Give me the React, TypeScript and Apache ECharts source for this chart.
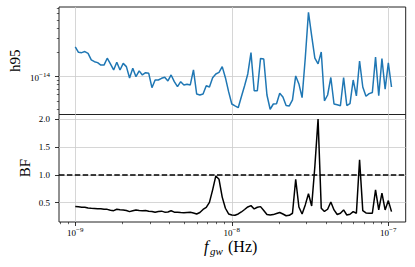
import React, { useEffect, useRef } from "react";
import * as echarts from "echarts";

// frequency grid in nHz
const freqNHz = [
  1.0, 1.048, 1.099, 1.151, 1.207, 1.265, 1.326, 1.389, 1.456, 1.526,
  1.6, 1.677, 1.758, 1.842, 1.931, 2.024, 2.121, 2.223, 2.33, 2.442,
  2.56, 2.683, 2.812, 2.947, 3.089, 3.237, 3.393, 3.557, 3.728, 3.907,
  4.095, 4.292, 4.498, 4.715, 4.942, 5.18, 5.429, 5.69, 5.964, 6.251,
  6.551, 6.867, 7.197, 7.543, 7.906, 8.286, 8.685, 9.103, 9.541, 10.0,
  10.48, 10.99, 11.51, 12.07, 12.65, 13.26, 13.9, 14.56, 15.26, 16.0,
  16.77, 17.58, 18.42, 19.31, 20.24, 21.21, 22.23, 23.3, 24.42, 25.6,
  26.83, 28.12, 29.47, 30.89, 32.38, 33.93, 35.57, 37.28, 39.07, 40.95,
  42.92, 44.98, 47.15, 49.42, 51.8, 54.29, 56.9, 59.64, 62.51, 65.51,
  68.67, 71.97, 75.43, 79.06, 82.86, 86.85, 91.03, 95.41, 100.0, 104.8,
];

// h95 upper limit, in units of 1e-14
const h95E14 = [
  2.34, 2.0, 1.98, 2.04, 1.94, 1.61, 1.53, 1.49, 1.39, 1.39,
  1.69, 1.44, 1.21, 1.51, 1.21, 1.46, 1.33, 0.964, 1.27, 1.0,
  1.18, 1.05, 1.12, 1.1, 0.731, 0.91, 0.91, 0.955, 0.983, 0.885,
  1.05, 0.868, 0.753, 0.868, 0.79, 0.806, 0.79, 1.21, 0.611, 0.594,
  0.611, 0.774, 0.746, 0.972, 1.08, 1.13, 1.33, 0.972, 0.653, 0.46,
  0.435, 0.414, 0.566, 0.774, 1.08, 1.98, 0.671, 0.671, 1.68, 1.65,
  0.594, 0.396, 0.46, 0.464, 0.624, 0.561, 0.441, 0.435, 0.516, 1.02,
  0.813, 0.55, 1.7, 6.24, 3.18, 1.69, 1.44, 2.02, 0.504, 0.594,
  0.977, 0.46, 0.45, 0.438, 0.977, 0.441, 0.464, 0.91, 0.578, 1.56,
  0.746, 0.573, 0.617, 0.638, 1.74, 0.581, 1.67, 0.699, 1.48, 0.746,
];

// Bayes factor
const bf = [
  0.43, 0.425, 0.42, 0.417, 0.405, 0.4, 0.397, 0.39, 0.392, 0.382,
  0.38, 0.364, 0.357, 0.382, 0.373, 0.37, 0.36, 0.339, 0.355, 0.37,
  0.36, 0.355, 0.36, 0.346, 0.342, 0.328, 0.342, 0.348, 0.33, 0.333,
  0.355, 0.33, 0.328, 0.322, 0.32, 0.324, 0.328, 0.315, 0.297, 0.324,
  0.378, 0.414, 0.505, 0.73, 0.98, 0.92, 0.6, 0.4, 0.297, 0.279,
  0.274, 0.297, 0.333, 0.378, 0.423, 0.447, 0.387, 0.418, 0.429, 0.36,
  0.288, 0.279, 0.286, 0.306, 0.324, 0.297, 0.265, 0.274, 0.31, 0.92,
  0.423, 0.297, 0.46, 0.66, 0.44, 1.15, 2.0, 0.4, 0.342, 0.382,
  0.513, 0.37, 0.288, 0.31, 0.37, 0.279, 0.292, 0.339, 0.31, 1.27,
  0.357, 0.315, 0.31, 0.31, 0.73, 0.37, 0.67, 0.37, 0.537, 0.34,
];

const xTickExponents = [-9, -8, -7];
const hTickExponents = [-14];
const bfTicks = [0.5, 1.0, 1.5, 2.0];
const bfThreshold = 1.0;

const FONT = "'Liberation Serif', 'DejaVu Serif', serif";

export default function App() {
  const ref = useRef<HTMLDivElement>(null);

  useEffect(() => {
    if (!ref.current) return;
    const chart = echarts.init(ref.current, null, { renderer: "svg" });

    const X_MIN = -9.104;
    const X_MAX = -6.889;
    const HY_MIN = -14.467;
    const HY_MAX = -13.14;
    const BF_MIN = 0.153;
    const BF_MAX = 2.083;

    const xMinor: number[] = [];
    for (let d = -10; d <= -7; d++) {
      for (let m = 2; m <= 9; m++) {
        const v = Math.log10(m) + d;
        if (v >= X_MIN && v <= X_MAX) xMinor.push(v);
      }
    }
    const hMinor: number[] = [];
    for (let d = -15; d <= -14; d++) {
      for (let m = 2; m <= 9; m++) {
        const v = Math.log10(m) + d;
        if (v >= HY_MIN && v <= HY_MAX) hMinor.push(v);
      }
    }

    const pow10 = (v: number) => `{b|10}{e|−${Math.round(Math.abs(v))}}`;
    const richPow = {
      b: { fontSize: 9, fontFamily: FONT, color: "#000", verticalAlign: "bottom", lineHeight: 11 },
      e: { fontSize: 7, fontFamily: FONT, color: "#000", verticalAlign: "top", lineHeight: 11 },
    };
    const gridLine = { show: true, lineStyle: { color: "#cccccc", width: 0.8 } };
    const tickLabel = { fontSize: 9, fontFamily: FONT, color: "#000" };

    const topData = freqNHz.map((f, i) => [Math.log10(f * 1e-9), Math.log10(h95E14[i] * 1e-14)]);
    const bfData = freqNHz.map((f, i) => [Math.log10(f * 1e-9), bf[i]]);

    chart.setOption({
      animation: false,
      backgroundColor: "#fff",
      grid: [
        { left: 59, top: 7, width: 346.7, height: 107.5, show: true, borderColor: "#222", borderWidth: 1, backgroundColor: "transparent" },
        { left: 59, top: 114.5, width: 346.7, height: 107.5, show: true, borderColor: "#222", borderWidth: 1, backgroundColor: "transparent" },
      ],
      xAxis: [
        {
          gridIndex: 0, type: "value", position: "bottom", min: X_MIN, max: X_MAX,
          axisLine: { show: false },
          axisTick: { show: false, customValues: xTickExponents },
          axisLabel: { show: false, customValues: xTickExponents },
          splitLine: gridLine,
        },
        {
          gridIndex: 1, type: "value", position: "bottom", min: X_MIN, max: X_MAX,
          axisLine: { show: false },
          axisTick: { show: true, customValues: xTickExponents, length: 4, lineStyle: { color: "#000", width: 0.8 } },
          axisLabel: { show: true, customValues: xTickExponents, margin: 4, formatter: pow10, rich: richPow },
          splitLine: gridLine,
        },
        {
          gridIndex: 1, type: "value", position: "bottom", min: X_MIN, max: X_MAX,
          axisLine: { show: false },
          axisTick: { show: true, customValues: xMinor, length: 2.2, lineStyle: { color: "#000", width: 0.6 } },
          axisLabel: { show: false, customValues: xMinor },
          splitLine: { show: false },
        },
      ],
      yAxis: [
        {
          gridIndex: 0, type: "value", position: "left", min: HY_MIN, max: HY_MAX,
          axisLine: { show: false },
          axisTick: { show: true, customValues: hTickExponents, length: 4, lineStyle: { color: "#000", width: 0.8 } },
          axisLabel: { show: true, customValues: hTickExponents, margin: 9, formatter: pow10, rich: richPow },
          splitLine: gridLine,
        },
        {
          gridIndex: 0, type: "value", position: "left", min: HY_MIN, max: HY_MAX,
          axisLine: { show: false },
          axisTick: { show: true, customValues: hMinor, length: 2.2, lineStyle: { color: "#000", width: 0.6 } },
          axisLabel: { show: false, customValues: hMinor },
          splitLine: { show: false },
        },
        {
          gridIndex: 1, type: "value", position: "left", min: BF_MIN, max: BF_MAX,
          axisLine: { show: false },
          axisTick: { show: true, customValues: bfTicks, length: 4, lineStyle: { color: "#000", width: 0.8 } },
          axisLabel: { show: true, customValues: bfTicks, margin: 9, formatter: (v: number) => v.toFixed(1), ...tickLabel },
          splitLine: gridLine,
        },
      ],
      series: [
        {
          type: "line", xAxisIndex: 0, yAxisIndex: 0, data: topData,
          symbol: "none", lineStyle: { color: "#1f77b4", width: 1.5 }, z: 3,
        },
        {
          type: "line", xAxisIndex: 1, yAxisIndex: 2, data: bfData,
          symbol: "none", lineStyle: { color: "#000", width: 1.5 }, z: 3,
          markLine: {
            silent: true, symbol: "none", label: { show: false },
            lineStyle: { color: "#000", width: 1.5, type: [5.5, 2.4] },
            data: [{ yAxis: bfThreshold }],
          },
        },
      ],
      graphic: [
        {
          type: "text", x: 15, y: 60.7, rotation: Math.PI / 2,
          style: { text: "h95", fontSize: 15, fontFamily: FONT, fill: "#000", align: "center", verticalAlign: "middle" },
        },
        {
          type: "text", x: 25, y: 168, rotation: Math.PI / 2,
          style: { text: "BF", fontSize: 15, fontFamily: FONT, fill: "#000", align: "center", verticalAlign: "middle" },
        },
        {
          type: "text", x: 204, y: 246.5,
          style: { text: "f", fontSize: 16, fontFamily: FONT, fontStyle: "italic", fill: "#000", align: "left", verticalAlign: "middle" },
        },
        {
          type: "text", x: 210, y: 250.5,
          style: { text: "gw", fontSize: 11, fontFamily: FONT, fontStyle: "italic", fill: "#000", align: "left", verticalAlign: "middle" },
        },
        {
          type: "text", x: 228, y: 246.5,
          style: { text: "(Hz)", fontSize: 16, fontFamily: FONT, fill: "#000", align: "left", verticalAlign: "middle" },
        },
      ],
    });

    return () => chart.dispose();
  }, []);

  return (
    <div
      ref={ref}
      style={{ position: "fixed", left: 0, top: 0, width: 415, height: 267, background: "#fff" }}
    />
  );
}
